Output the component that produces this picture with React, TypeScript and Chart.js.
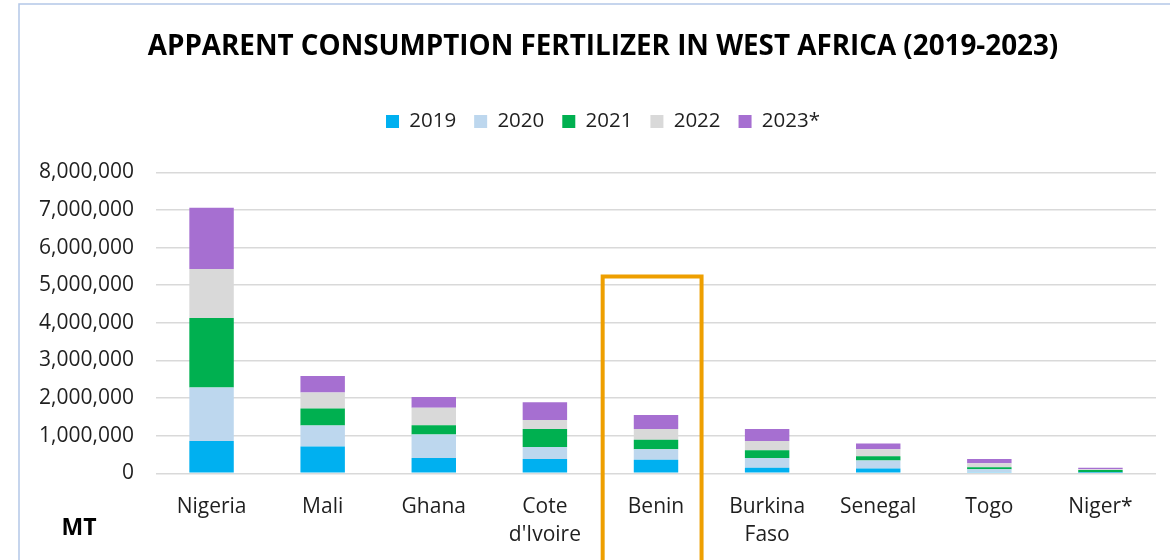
import React, { useEffect, useRef } from "react";
import { Chart, registerables } from "chart.js";

Chart.register(...registerables);

const titleText = "APPARENT CONSUMPTION FERTILIZER IN WEST AFRICA (2019-2023)";
const unitLabel = "MT";
const categories: (string | string[])[] = [
  "Nigeria",
  "Mali",
  "Ghana",
  ["Cote", "d'Ivoire"],
  "Benin",
  ["Burkina", "Faso"],
  "Senegal",
  "Togo",
  "Niger*",
];
const seriesLabels = ["2019", "2020", "2021", "2022", "2023*"];
const values2019 = [860000, 710000, 410000, 380000, 360000, 150000, 130000, 30000, 10000];
const values2020 = [1420000, 560000, 620000, 320000, 280000, 260000, 210000, 80000, 20000];
const values2021 = [1850000, 450000, 250000, 480000, 250000, 200000, 110000, 50000, 60000];
const values2022 = [1300000, 430000, 460000, 240000, 290000, 250000, 190000, 110000, 20000];
const values2023 = [1630000, 440000, 290000, 470000, 370000, 320000, 150000, 110000, 40000];
const seriesColors = ["#00B0F0", "#BDD7EE", "#00B050", "#D9D9D9", "#A66FD1"];
const yMin = 0;
const yMax = 8000000;
const yStep = 1000000;
// highlight frame around Benin (category index range and top value)
const highlightStart = 3.52;
const highlightEnd = 4.41;
const highlightTop = 5230000;

const FONT = "'Open Sans', sans-serif";

const decorations = {
  id: "decorations",
  afterLayout(chart: any) {
    // let the y tick labels extend into the layout padding without clipping
    const ys = chart.scales.y;
    if (ys) ys.left = 0;
  },
  beforeDraw(chart: any) {
    const { ctx } = chart;
    ctx.save();
    ctx.strokeStyle = "#B4C7E7";
    ctx.lineWidth = 1.5;
    ctx.beginPath();
    ctx.moveTo(19, chart.height + 5);
    ctx.lineTo(19, 4);
    ctx.lineTo(chart.width + 5, 4);
    ctx.stroke();
    ctx.restore();
  },
  afterDraw(chart: any) {
    const { ctx } = chart;
    const xs = chart.scales.x;
    const ys = chart.scales.y;
    ctx.save();
    ctx.fillStyle = "#000";
    ctx.font = `bold 23px ${FONT}`;
    ctx.textAlign = "center";
    ctx.textBaseline = "middle";
    ctx.fillText(unitLabel, 79, 528);
    const l = xs.getPixelForValue(highlightStart);
    const r = xs.getPixelForValue(highlightEnd);
    const t = ys.getPixelForValue(highlightTop);
    ctx.strokeStyle = "#EE9F00";
    ctx.lineWidth = 4;
    ctx.lineJoin = "miter";
    ctx.beginPath();
    ctx.moveTo(l, chart.height + 10);
    ctx.lineTo(l, t);
    ctx.lineTo(r, t);
    ctx.lineTo(r, chart.height + 10);
    ctx.stroke();
    ctx.restore();
  },
};

export default function App() {
  const ref = useRef<HTMLCanvasElement>(null);
  useEffect(() => {
    const seriesValues = [values2019, values2020, values2021, values2022, values2023];
    const chart = new Chart(ref.current as HTMLCanvasElement, {
      type: "bar",
      data: {
        labels: categories,
        datasets: seriesLabels.map((label, i) => ({
          label,
          data: seriesValues[i],
          backgroundColor: seriesColors[i],
          borderWidth: 0,
          barPercentage: 0.4,
          categoryPercentage: 1,
          xAxisID: "x",
          yAxisID: "y",
        })),
      },
      options: {
        responsive: false,
        animation: false,
        layout: { padding: { top: 0, left: 50, right: 14, bottom: 0 } },
        plugins: {
          title: {
            display: true,
            text: titleText,
            color: "#000",
            font: { family: FONT, size: 27.8, weight: "bold" },
            padding: { top: 30.6, bottom: 29.4 },
          },
          legend: {
            display: true,
            position: "top",
            labels: {
              boxWidth: 13,
              boxHeight: 13,
              padding: 18,
              color: "#1f1f1f",
              font: { family: FONT, size: 20.5 },
            },
          },
          tooltip: { enabled: false },
        },
        scales: {
          x: {
            stacked: true,
            grid: { display: false },
            border: { display: false },
            ticks: {
              color: "#1f1f1f",
              font: { family: FONT, size: 21, lineHeight: 1.37 },
              padding: 11,
              maxRotation: 0,
              autoSkip: false,
            },
            afterFit: (s: any) => {
              s.height = 86.7;
            },
          },
          xSpacer: {
            axis: "x",
            type: "linear",
            position: "top",
            display: true,
            min: 0,
            max: 1,
            grid: { display: false },
            border: { display: false },
            ticks: { display: false },
            afterFit: (s: any) => {
              s.height = 30.55;
            },
          },
          y: {
            stacked: true,
            min: yMin,
            max: yMax,
            grid: { color: "#D9D9D9", lineWidth: 1.5, drawTicks: false },
            border: { display: false },
            ticks: {
              stepSize: yStep,
              color: "#1f1f1f",
              font: { family: FONT, size: 21 },
              padding: 22,
              callback: (v: any) => Number(v).toLocaleString("en-US"),
            },
            afterFit: (s: any) => {
              s.width = 106;
            },
          },
        },
      } as any,
      plugins: [decorations],
    });
    return () => chart.destroy();
  }, []);
  return (
    <div style={{ position: "absolute", left: 0, top: 0, width: 1170, height: 560, background: "#fff" }}>
      <canvas ref={ref} width={1170} height={560} style={{ display: "block", width: 1170, height: 560 }} />
    </div>
  );
}
